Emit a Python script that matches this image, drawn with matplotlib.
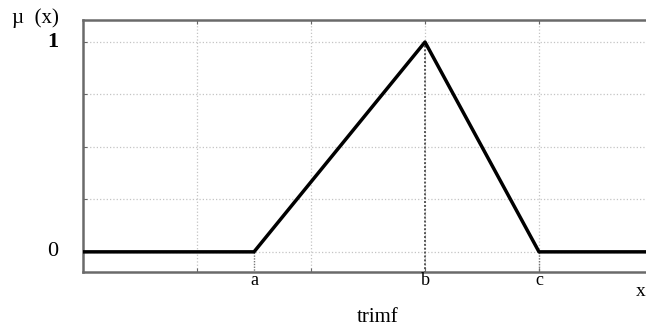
import numpy as np
import matplotlib.pyplot as plt

plt.rcParams['font.family'] = ['Liberation Serif', 'DejaVu Serif']

# triangular membership function parameters
a, b, c = 1.5, 3.0, 4.0
x_pts = [0.0, a, b, c, 5.0]
mu_pts = [0.0, 0.0, 1.0, 0.0, 0.0]

grid_x = [1, 2, 3, 4]
grid_y = [0, 0.25, 0.5, 0.75, 1.0]
param_ticks = [a, b, c]
param_labels = ['a', 'b', 'c']

fig = plt.figure(figsize=(6.46, 3.32), dpi=100)
ax = fig.add_axes([83 / 646, 60 / 332, 570 / 646, 252 / 332])

for gx in grid_x:
    ax.axvline(gx, color='#c4c4c4', linestyle=':', linewidth=0.9, zorder=1)
for gy in grid_y:
    ax.axhline(gy, color='#c4c4c4', linestyle=':', linewidth=0.9, zorder=1)

ax.plot(x_pts, mu_pts, color='black', linewidth=2.5, zorder=3)
ax.plot([b, b], [-0.1, 1.0], color='#555555', linestyle=(0, (1, 1)), linewidth=1.4, zorder=2)
ax.plot([a, a], [-0.1, 0.0], color='#777777', linestyle=(0, (1, 1)), linewidth=1.0, zorder=2)
ax.plot([c, c], [-0.1, 0.0], color='#777777', linestyle=(0, (1, 1)), linewidth=1.0, zorder=2)

ax.set_xlim(0, 5)
ax.set_ylim(-0.096, 1.105)

ax.set_xticks(grid_x)
ax.set_xticklabels([])
ax.set_yticks(grid_y)
ax.set_yticklabels([])
ax.tick_params(direction='in', length=3, color='#666666', top=True, right=True)

for sp in ax.spines.values():
    sp.set_color('#6a6a6a')
    sp.set_linewidth(1.8)

for t, lab in zip(param_ticks, param_labels):
    ax.text(t, -0.135, lab, ha='center', va='center', fontsize=13)

ax.text(-0.22, 1.0, '1', ha='right', va='center', fontsize=16, fontweight='bold')
ax.text(-0.22, 0.0, '0', ha='right', va='center', fontsize=16)
fig.text(12 / 646, 1 - 18 / 332, 'µ  (x)', ha='left', va='center', fontsize=15)
fig.text(641 / 646, 1 - 292 / 332, 'x', ha='center', va='center', fontsize=14)
fig.text(378 / 646, 1 - 318 / 332, 'trimf', ha='center', va='center', fontsize=15)

fig.savefig('out.png', dpi=100)
